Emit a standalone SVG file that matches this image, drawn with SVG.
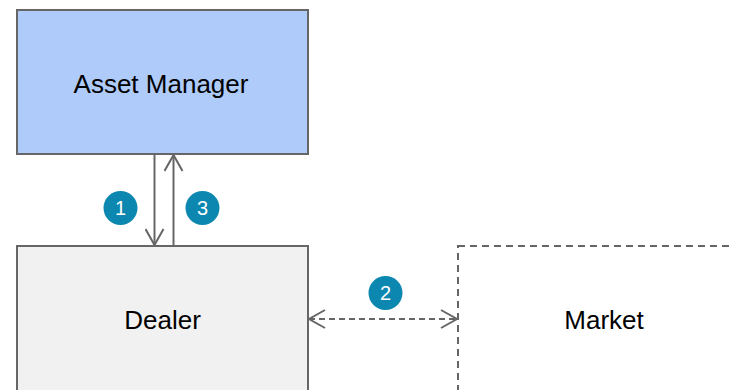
<svg xmlns="http://www.w3.org/2000/svg" width="734" height="390" viewBox="0 0 734 390">
<defs>
<style>
.box{stroke:#666;stroke-width:2}
.lbl{font-family:"Liberation Sans",Arial,sans-serif;font-size:26px;fill:#000;text-anchor:middle}
.badge{fill:#0b87b0}
.num{font-family:"Liberation Sans",Arial,sans-serif;font-size:20px;fill:#fff;text-anchor:middle}
.edge{stroke:#666;stroke-width:2;fill:none}
</style>
<marker id="arr" viewBox="0 0 20 20" refX="18" refY="10" markerWidth="20" markerHeight="20" markerUnits="userSpaceOnUse" orient="auto-start-reverse">
<path d="M2,1 L18,10 L2,19" fill="none" stroke="#666" stroke-width="2"/>
</marker>
</defs>
<rect width="734" height="390" fill="#fff"/>
<g id="asset-manager">
<rect class="box" x="17" y="10" width="291" height="144" fill="#aecbfa"/>
<text class="lbl" x="161" y="92.5">Asset Manager</text>
</g>
<g id="dealer">
<rect class="box" x="17" y="246" width="291" height="160" fill="#f1f1f1"/>
<text class="lbl" x="162.5" y="329">Dealer</text>
</g>
<g id="market">
<rect class="box" x="458" y="246" width="291" height="160" fill="none" stroke-dasharray="7,5"/>
<text class="lbl" x="604" y="329">Market</text>
</g>
<g id="connectors">
<line class="edge" x1="154.5" y1="154" x2="154.5" y2="245" marker-end="url(#arr)"/>
<line class="edge" x1="173.5" y1="246" x2="173.5" y2="155" marker-end="url(#arr)"/>
<line class="edge" x1="309" y1="319" x2="457" y2="319" stroke-dasharray="6,4" marker-start="url(#arr)" marker-end="url(#arr)"/>
</g>
<g id="badge-1"><circle class="badge" cx="120.5" cy="208" r="17"/><text class="num" x="120.5" y="215">1</text></g>
<g id="badge-3"><circle class="badge" cx="202.5" cy="208" r="17"/><text class="num" x="202.5" y="215">3</text></g>
<g id="badge-2"><circle class="badge" cx="385.5" cy="293" r="17"/><text class="num" x="385.5" y="300">2</text></g>
</svg>
